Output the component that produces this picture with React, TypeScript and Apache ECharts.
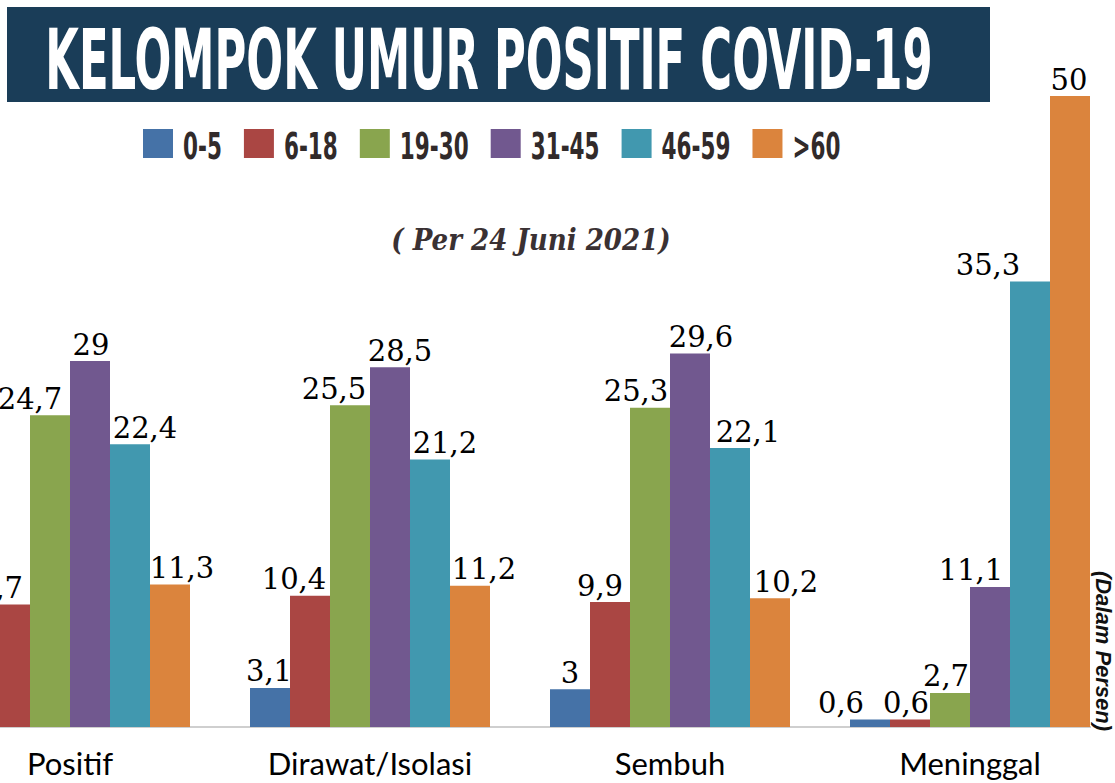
import React, { useEffect, useRef } from "react";
import * as echarts from "echarts";

const categories = ["Positif", "Dirawat/Isolasi", "Sembuh", "Meninggal"];
const ageGroups = ["0-5", "6-18", "19-30", "31-45", "46-59", ">60"];
const colors = ["#4572a7", "#aa4643", "#89a54e", "#71588f", "#4198af", "#db843d"];
const age0to5 = [2.9, 3.1, 3, 0.6];
const age6to18 = [9.7, 10.4, 9.9, 0.6];
const age19to30 = [24.7, 25.5, 25.3, 2.7];
const age31to45 = [29, 28.5, 29.6, 11.1];
const age46to59 = [22.4, 21.2, 22.1, 35.3];
const age60plus = [11.3, 11.2, 10.2, 50];
const seriesValues = [age0to5, age6to18, age19to30, age31to45, age46to59, age60plus];

const titleText = "KELOMPOK UMUR POSITIF COVID-19";
const subtitleText = "( Per 24 Juni 2021)";
const unitText = "(Dalam Persen)";

// Layout only: horizontal nudges of the value labels (px), as placed in the original
const labelNudgeX = [
  [0, -1, 0, -29],
  [-10, -16, -10, -4],
  [-20, -16, -14, -4],
  [1, 10, 11, -19],
  [15, 15, 18, -42],
  [12, 14, 16, -1],
];

const condensed = "'DejaVu Sans Condensed', 'DejaVu Sans', sans-serif";

function measure(text: string, font: string): number {
  const c = document.createElement("canvas").getContext("2d");
  if (!c) return text.length * 20;
  c.font = font;
  return c.measureText(text).width;
}

function buildLegend(): any[] {
  const font = "bold 38px " + condensed;
  const scale = 0.63;
  const els: any[] = [];
  let x = 143;
  ageGroups.forEach((name, i) => {
    els.push({
      type: "rect",
      z: 100,
      shape: { x, y: 129, width: 30, height: 29 },
      style: { fill: colors[i] },
    });
    const tx = x + 30 + 10;
    els.push({
      type: "text",
      z: 101,
      x: tx,
      y: 146,
      scaleX: scale,
      style: {
        text: name,
        fill: "#312a2a",
        font,
        textAlign: "left",
        textVerticalAlign: "middle",
      },
    });
    x = tx + measure(name, font) * scale + 22;
  });
  return els;
}

export default function App() {
  const ref = useRef<HTMLDivElement>(null);
  useEffect(() => {
    if (!ref.current) return;
    const chart = echarts.init(ref.current, undefined, { renderer: "svg" });
    chart.setOption({
      animation: false,
      backgroundColor: "#ffffff",
      grid: {
        left: -80,
        width: 1200,
        top: 96,
        bottom: 56,
        containLabel: false,
        outerBoundsMode: "none",
      },
      xAxis: {
        type: "category",
        data: categories,
        axisLine: { lineStyle: { color: "#bfbfbf", width: 1.5 } },
        axisTick: { length: 11, lineStyle: { color: "#bfbfbf", width: 1.5 } },
        axisLabel: {
          fontFamily: "Lato, 'Open Sans', sans-serif",
          fontSize: 31,
          color: "#000",
          margin: 20,
        },
      },
      yAxis: {
        type: "value",
        min: 0,
        max: 50,
        show: false,
        splitLine: { show: false },
      },
      series: ageGroups.map((name, i) => ({
        name,
        type: "bar",
        data: seriesValues[i].map((v, j) => ({
          value: v,
          label: { offset: [labelNudgeX[i][j], 0] },
        })),
        barGap: "0%",
        barCategoryGap: "20%",
        itemStyle: { color: colors[i] },
        label: {
          show: true,
          position: "top",
          distance: 2,
          fontFamily: "'DejaVu Serif', serif",
          fontSize: 29,
          color: "#000",
          formatter: (p: any) => String(p.value).replace(".", ","),
        },
      })),
      graphic: [
        {
          type: "rect",
          z: 100,
          shape: { x: 7, y: 7, width: 983, height: 95 },
          style: { fill: "#1a3d58" },
        },
        {
          type: "text",
          z: 101,
          x: 489,
          y: 60,
          scaleX: 0.574,
          style: {
            text: titleText,
            fill: "#ffffff",
            font: "bold 84px " + condensed,
            textAlign: "center",
            textVerticalAlign: "middle",
          },
        },
        ...buildLegend(),
        {
          type: "text",
          z: 101,
          x: 531,
          y: 240,
          style: {
            text: subtitleText,
            fill: "#3a3133",
            font: "italic bold 29px 'DejaVu Serif Condensed', 'DejaVu Serif', serif",
            textAlign: "center",
            textVerticalAlign: "middle",
          },
        },
        {
          type: "rect",
          z: 100,
          shape: { x: 1091, y: 560, width: 30, height: 190 },
          style: { fill: "#ffffff" },
        },
        {
          type: "text",
          z: 101,
          x: 1103,
          y: 651,
          rotation: -Math.PI / 2,
          style: {
            text: unitText,
            fill: "#111",
            font: "italic bold 22px 'Liberation Sans', Arial, sans-serif",
            textAlign: "center",
            textVerticalAlign: "middle",
          },
        },
      ],
    });
    return () => chart.dispose();
  }, []);
  return (
    <div
      ref={ref}
      style={{ position: "absolute", left: 0, top: 0, width: 1115, height: 783, background: "#fff" }}
    />
  );
}
